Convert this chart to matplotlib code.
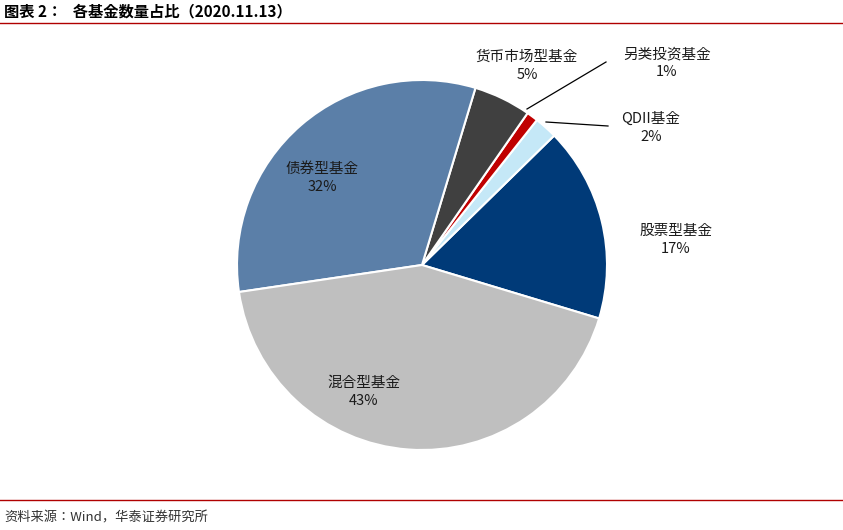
import matplotlib
matplotlib.use("Agg")
import matplotlib.pyplot as plt
from matplotlib import font_manager as fm
from matplotlib.lines import Line2D

# locate a CJK font file explicitly
cjk = [f for f in fm.findSystemFonts() if "CJK" in f or "cjk" in f.lower()]
cjk_sc = [f for f in cjk if "SC" in f or "sc" in f.lower()]
if cjk:
    path = (cjk_sc or cjk)[0]
    fm.fontManager.addfont(path)
    fam = fm.FontProperties(fname=path).get_name()
    plt.rcParams["font.family"] = [fam, "DejaVu Sans"]
else:
    plt.rcParams["font.family"] = ["Noto Sans CJK SC", "DejaVu Sans"]

labels = ["股票型基金", "QDII基金", "另类投资基金", "货币市场型基金", "债券型基金", "混合型基金"]
shares = [17, 2, 1, 5, 32, 43]
colors = ["#003a78", "#c5e8f7", "#c00000", "#404040", "#5b7fa8", "#bfbfbf"]

W, H = 843, 530
fig = plt.figure(figsize=(W / 100, H / 100), dpi=100)

def fx(x): return x / W
def fy(y): return 1 - y / H

# pie centred at (422, 265) px, radius ~185 px
ax = fig.add_axes([fx(237), fy(450), 370 / W, 370 / H])
ax.pie(shares, colors=colors, startangle=-16.8, counterclock=True, radius=1,
       wedgeprops=dict(edgecolor="white", linewidth=1.5))
ax.set_xlim(-1, 1)
ax.set_ylim(-1, 1)
ax.set_aspect("equal")

# label positions in pixels
pos = [(676, 240), (651, 128), (667, 63), (527, 66), (322, 178), (364, 392)]
for (x, y), name, v in zip(pos, labels, shares):
    fig.text(fx(x), fy(y), f"{name}\n{v}%", ha="center", va="center",
             fontsize=10.5, linespacing=1.35, color="#1a1a1a")

# leader lines
for (x0, y0), (x1, y1) in [((527, 109), (606, 62)), ((546, 122), (608, 126))]:
    fig.add_artist(Line2D([fx(x0), fx(x1)], [fy(y0), fy(y1)], color="black", lw=0.9))

# header / footer
fig.text(fx(4), fy(11), "图表 2：   各基金数量占比（2020.11.13）", ha="left", va="center",
         fontsize=11, fontweight="bold")
fig.add_artist(Line2D([0, 1], [fy(23), fy(23)], color="#b00000", lw=1))
fig.add_artist(Line2D([0, 1], [fy(500), fy(500)], color="#b00000", lw=1))
fig.text(fx(4), fy(518), "资料来源：Wind，华泰证券研究所", ha="left", va="center",
         fontsize=9.5, color="#333333")

fig.savefig("out.png", dpi=100)
